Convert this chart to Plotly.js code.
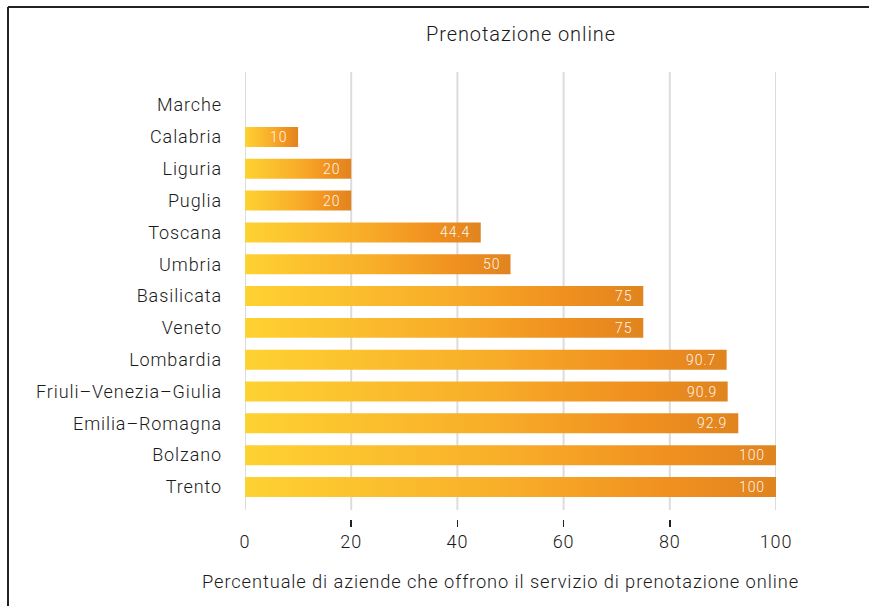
<!DOCTYPE html>
<html>
<head>
<meta charset="utf-8">
<script src="https://cdn.plot.ly/plotly-3.0.1.min.js"></script>
<style>
html,body{margin:0;padding:0;background:#fff;}
#chart{width:869px;height:606px;}
svg text{letter-spacing:0.9px;}
</style>
</head>
<body>
<div id="chart"></div>
<script>
// Data (top to bottom as displayed)
const regions = ["Marche","Calabria","Liguria","Puglia","Toscana","Umbria","Basilicata","Veneto","Lombardia","Friuli–Venezia–Giulia","Emilia–Romagna","Bolzano","Trento"];
const values  = [0, 10, 20, 20, 44.4, 50, 75, 75, 90.7, 90.9, 92.9, 100, 100];
const labels  = ["", "10", "20", "20", "44.4", "50", "75", "75", "90.7", "90.9", "92.9", "100", "100"];
const xTicks  = [0, 20, 40, 60, 80, 100];

const W = 869, H = 606;
const M = {l: 245, r: 93, t: 72, b: 79};
const pw = W - M.l - M.r, ph = H - M.t - M.b;
const FONT = "Roboto, 'Open Sans', sans-serif";
const WT = 300;
const half = 0.314;
const grad = [[0,'#fed232'],[0.5,'#f8ad29'],[0.8,'#f0901f'],[1,'#e0841f']];

const n = regions.length;
const yIdx = regions.map((r,i) => n - 1 - i);

const traces = [];
regions.forEach((r,i) => {
  const v = values[i];
  if (!(v > 0)) return;
  const y = yIdx[i];
  traces.push({
    type: 'scatter', mode: 'lines',
    x: [0, v, v, 0, 0],
    y: [y-half, y-half, y+half, y+half, y-half],
    fill: 'toself',
    fillgradient: {type: 'horizontal', colorscale: grad},
    line: {width: 0, color: 'rgba(0,0,0,0)'},
    hoverinfo: 'skip', showlegend: false, name: r
  });
});

const annotations = [];
regions.forEach((r,i) => {
  if (!labels[i]) return;
  annotations.push({
    x: values[i], y: yIdx[i], xref: 'x', yref: 'y',
    text: labels[i], showarrow: false, xanchor: 'right', yanchor: 'middle',
    xshift: -9, font: {family: FONT, size: 14, weight: WT, color: 'rgba(255,255,255,0.95)'}
  });
});
annotations.push({
  xref: 'paper', yref: 'paper', x: (500 - M.l)/pw, y: (M.t + ph - 581)/ph,
  xanchor: 'center', yanchor: 'middle', showarrow: false,
  text: 'Percentuale di aziende che offrono il servizio di prenotazione online',
  font: {family: FONT, size: 18.3, weight: WT, color: '#1a1a1a'}
});

const shapes = xTicks.map(t => ({
  type: 'line', xref: 'x', yref: 'y', x0: t, x1: t, y0: -0.72, y1: 13.04,
  line: {color: '#dcdcdc', width: 2}, layer: 'below'
}));
// frame (top and left edges)
const px = x => (x - M.l)/pw, py = y => (M.t + ph - y)/ph;
shapes.push({type:'line', xref:'paper', yref:'paper', x0: px(8), x1: px(869), y0: py(7), y1: py(7), line:{color:'#222', width:2}});
shapes.push({type:'line', xref:'paper', yref:'paper', x0: px(8), x1: px(8), y0: py(7), y1: py(606), line:{color:'#222', width:2}});

const layout = {
  width: W, height: H, margin: M,
  paper_bgcolor: '#fff', plot_bgcolor: '#fff',
  title: {text: 'Prenotazione online', x: (521 - M.l)/pw, xref: 'paper', xanchor: 'center',
          y: 1 - 34/H, yref: 'container', yanchor: 'middle',
          font: {family: FONT, size: 20, weight: WT, color: '#1a1a1a'}},
  xaxis: {range: [0, 100*(pw)/(776-245)], tickvals: xTicks, ticktext: xTicks.map(String),
          showgrid: false, zeroline: false, showline: false,
          ticks: 'inside', ticklen: 7, tickwidth: 1.5, tickcolor: '#222',
          ticklabelstandoff: 2,
          tickfont: {family: FONT, size: 18, weight: WT, color: '#1a1a1a'}, fixedrange: true},
  yaxis: {range: [-1.257, 13.04], tickvals: yIdx, ticktext: regions,
          showgrid: false, zeroline: false, showline: false, ticks: '',
          ticklabelstandoff: 22,
          tickfont: {family: FONT, size: 18, weight: WT, color: '#1a1a1a'}, fixedrange: true},
  shapes: shapes, annotations: annotations, showlegend: false
};

Plotly.newPlot('chart', traces, layout, {displayModeBar: false, staticPlot: true});
</script>
</body>
</html>
